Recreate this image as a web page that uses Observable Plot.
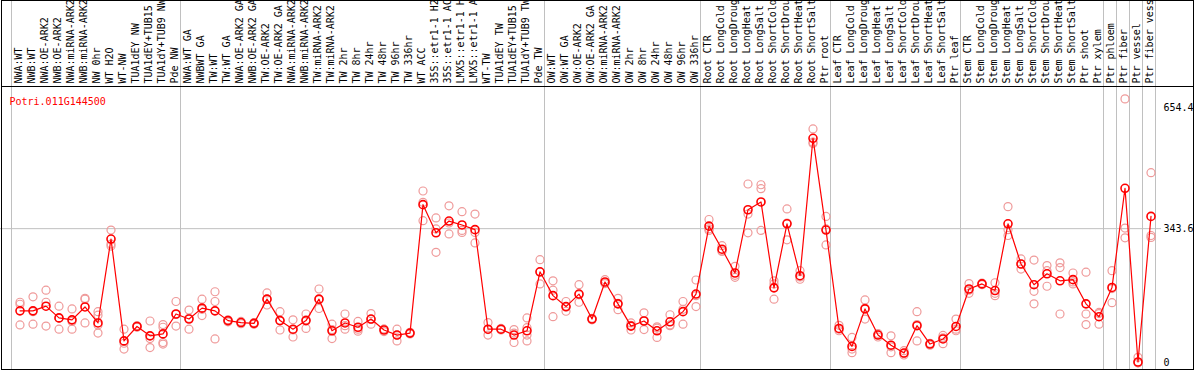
<!DOCTYPE html>
<html><head><meta charset="utf-8">
<script src="https://cdn.jsdelivr.net/npm/d3@7"></script>
<script src="https://cdn.jsdelivr.net/npm/@observablehq/plot@0.6"></script>
<style>
body{margin:0;background:#fff}
#chart svg{display:block}
</style></head><body><div id="chart"></div>
<script>
const geneId = "Potri.011G144500";

const labels = [
"NWA:WT","NWB:WT","NWA:OE-ARK2","NWB:OE-ARK2","NWA:miRNA-ARK2","NWB:miRNA-ARK2","NW 0hr","WT H2O","WT-NW","TUA1dEY NW","TUA1dEY+TUB15 NW","TUA1dY+TUB9 NW","Pde NW",
"NWA:WT GA","NWBWT GA","TW:WT","TW:WT GA","NWA:OE-ARK2 GA","NWB:OE-ARK2 GA","TW:OE-ARK2","TW:OE-ARK2 GA","NWA:miRNA-ARK2 GA","NWB:miRNA-ARK2 GA","TW:miRNA-ARK2","TW:miRNA-ARK2 GA","TW 2hr","TW 8hr","TW 24hr","TW 48hr","TW 96hr","TW 336hr","WT ACC","35S::etr1-1 H2O","35S::etr1-1 ACC","LMX5::etr1-1 H2O","LMX5::etr1-1 ACC","WT-TW","TUA1dEY TW","TUA1dEY+TUB15 TW","TUA1dY+TUB9 TW","Pde TW",
"OW:WT","OW:WT GA","OW:OE-ARK2","OW:OE-ARK2 GA","OW:miRNA-ARK2","OW:miRNA-ARK2 GA","OW 2hr","OW 8hr","OW 24hr","OW 48hr","OW 96hr","OW 336hr",
"Root CTR","Root LongCold","Root LongDrought","Root LongHeat","Root LongSalt","Root ShortCold","Root ShortDrought","Root ShortHeat","Root ShortSalt","Ptr root",
"Leaf CTR","Leaf LongCold","Leaf LongDrought","Leaf LongHeat","Leaf LongSalt","Leaf ShortCold","Leaf ShortDrought","Leaf ShortHeat","Leaf ShortSalt","Ptr leaf",
"Stem CTR","Stem LongCold","Stem LongDrought","Stem LongHeat","Stem LongSalt","Stem ShortCold","Stem ShortDrought","Stem ShortHeat","Stem ShortSalt","Ptr shoot","Ptr xylem",
"Ptr phloem","Ptr fiber","Ptr vessel","Ptr fiber vessel"];

const means = [
133,133,145,115,110,143,102,317,56,93,69,74,125,
112,140,133,108,103,101,163,108,86,108,163,82,102,91,112,84,71,76,405,333,363,353,341,86,86,71,82,233,
172,144,176,112,207,151,94,107,82,105,131,176,
350,291,230,392,412,192,356,223,575,340,
88,42,138,71,45,25,95,48,61,93,
189,202,185,356,253,200,228,210,213,151,118,
193,447,2,375];

const replicates = [
[155,150,97],[169,99,131],[186,155,94],[145,86,114],[138,86,106],[163,165,102],[131,122,97,76],[340,304,299],[86,35,50],[95,91,93],[107,39,62],[98,91,52,48],[157,94,124],
[135,86,114],[163,121,137],[182,157,61],[105,110,108],[106,100,103],[103,99,101],[179,148,163],[131,84,108],[110,66,84],[125,88,110],[189,139,162],[99,62,85],[125,86,95],[106,81,86],[126,99,111],[86,80,86],[86,56,71],[78,74,76],[440,364,411],[371,343,283],[402,330,358],[387,339,334],[381,334,307],[103,71,85],[88,84,86],[85,52,76],[115,90,71,56],[264,202,232],
[210,186,118],[157,132,142],[200,155,174],[114,110,112],[213,205,203],[165,136,152],[96,84,102],[128,85,108],[92,65,89],[123,97,95],[157,99,137],[212,144,172],
[367,339,343],[285,287,300],[247,219,224],[458,381,333],[456,446,339],[210,163,202],[394,315,358],[236,214,220],[599,565,562],[375,302,343],
[96,82,86],[65,26,35],[161,112,140],[75,66,72],[69,26,41],[31,20,24],[131,56,98],[50,45,49],[64,49,70],[112,82,86],
[203,178,186],[200,204,202],[205,172,178],[400,326,341],[266,240,253],[263,183,151],[249,236,196],[256,244,125],[230,202,207],[232,125,98],[129,99,126],
[236,154,190],[676,345,320],[14,0,0],[487,326,321]];

const groupBreaks = [0,13,41,53,63,73,84,85,86,87,88];
const yTicks = [0, 343.6, 654.4];

const samples = labels.map((label, i) => ({label, pos: i + 0.5, mean: means[i]}));
const reps = replicates.flatMap((vals, i) => vals.map(v => ({pos: i + 0.5, value: v})));

const chart = Plot.plot({
  width: 1194,
  height: 370,
  marginTop: 86,
  marginBottom: 1,
  marginLeft: 11,
  marginRight: 39,
  style: {fontFamily: "'DejaVu Sans Mono', monospace", fontSize: "10px", background: "#fff", color: "black"},
  x: {domain: [0, labels.length], axis: null},
  y: {domain: [-17.2, 707.7], axis: null, label: null},
  marks: [
    Plot.ruleX(groupBreaks, {stroke: "#c0c0c0", strokeOpacity: 1, insetTop: -86}),
    Plot.ruleY([yTicks[1]], {stroke: "#c0c0c0", strokeOpacity: 1, insetLeft: -11, insetRight: -6}),
    Plot.frame({stroke: "black", insetTop: -86, insetLeft: -10, insetRight: -38}),
    Plot.frame({stroke: "black", insetLeft: -10, insetRight: -38}),
    Plot.text(samples, {x: "pos", text: "label", frameAnchor: "top", rotate: -90, textAnchor: "start", lineAnchor: "middle", dy: -3, dx: 1, fill: "black"}),
    Plot.text([geneId], {text: d => d, frameAnchor: "top-left", textAnchor: "start", dx: -2, dy: 11, fill: "red"}),
    Plot.dot(reps, {x: "pos", y: "value", r: 4, stroke: "#ef9a9a", strokeWidth: 1.2, dx: 2}),
    Plot.line(samples, {x: "pos", y: "mean", stroke: "red", strokeWidth: 1.2, dx: 2}),
    Plot.dot(samples, {x: "pos", y: "mean", r: 4, stroke: "red", strokeWidth: 1.6, dx: 2}),
    Plot.axisY(yTicks, {anchor: "right", tickSize: 0, tickPadding: 8, label: null, tickFormat: d => String(d), fill: "black"})
  ]
});
document.getElementById("chart").append(chart);
</script>
</body></html>
